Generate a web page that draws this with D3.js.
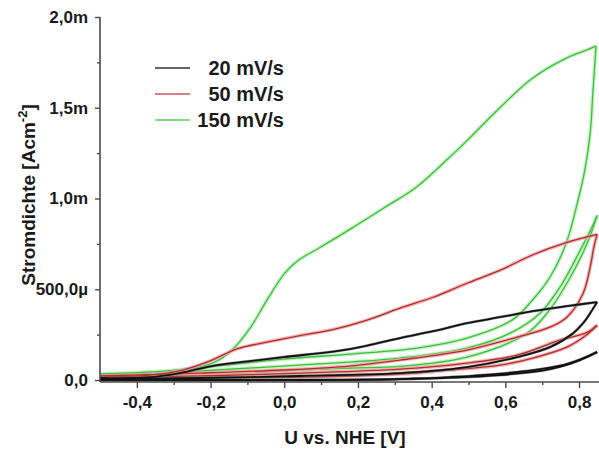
<!DOCTYPE html>
<html><head><meta charset="utf-8">
<script src="https://cdn.jsdelivr.net/npm/d3@7"></script>
<style>
body{margin:0;background:#fff}
text{font-family:"Liberation Sans",Arial,sans-serif;font-weight:bold;fill:#1a1a1a}
</style>
</head><body><svg id="c" width="599" height="449"></svg>
<script>
// ---- data (U in V, current density in mA/cm^2) ----
const seriesNames = ["20 mV/s", "50 mV/s", "150 mV/s"];
const xMajorTicks = [-0.4, -0.2, 0.0, 0.2, 0.4, 0.6, 0.8];
const xMinorTicks = [-0.3, -0.1, 0.1, 0.3, 0.5, 0.7];
const yMajorTicks = [0, 0.5, 1.0, 1.5, 2.0];
const yMinorTicks = [0.25, 0.75, 1.25, 1.75];
const yTickLabels = ["0,0", "500,0\u00b5", "1,0m", "1,5m", "2,0m"];

// 150 mV/s
const green_c1_fwd = [[-0.5,0.027],[-0.364,0.035],[-0.256,0.060],[-0.188,0.099],[-0.142,0.165],[-0.093,0.286],[-0.047,0.440],[0.002,0.590],[0.040,0.662],[0.090,0.722],[0.178,0.830],[0.268,0.945],[0.360,1.065],[0.450,1.230],[0.496,1.319],[0.585,1.500],[0.675,1.665],[0.767,1.775],[0.822,1.819],[0.846,1.841]];
const green_c1_rev = [[0.846,1.841],[0.838,1.600],[0.830,1.357],[0.815,1.150],[0.797,0.989],[0.765,0.753],[0.721,0.566],[0.680,0.456],[0.618,0.330],[0.496,0.231],[0.360,0.176],[0.178,0.143],[-0.003,0.115],[-0.182,0.077],[-0.364,0.044],[-0.5,0.033]];
const green_c2_fwd = [[-0.5,0.011],[-0.364,0.016],[-0.182,0.027],[-0.003,0.049],[0.178,0.066],[0.314,0.075],[0.496,0.126],[0.659,0.258],[0.713,0.368],[0.767,0.533],[0.822,0.753],[0.849,0.907]];
const green_c2_rev = [[0.849,0.907],[0.841,0.868],[0.803,0.714],[0.748,0.511],[0.694,0.368],[0.613,0.258],[0.496,0.176],[0.314,0.121],[0.178,0.099],[-0.003,0.077],[-0.182,0.055],[-0.364,0.033],[-0.5,0.022]];
// 50 mV/s
const red_c1_fwd = [[-0.5,0.016],[-0.364,0.027],[-0.275,0.055],[-0.201,0.105],[-0.128,0.172],[-0.047,0.209],[0.043,0.245],[0.132,0.278],[0.225,0.330],[0.314,0.396],[0.404,0.456],[0.496,0.533],[0.585,0.604],[0.675,0.690],[0.767,0.758],[0.849,0.802]];
const red_c1_rev = [[0.849,0.802],[0.841,0.740],[0.830,0.621],[0.811,0.478],[0.767,0.346],[0.721,0.291],[0.632,0.236],[0.496,0.165],[0.314,0.110],[0.178,0.077],[-0.003,0.055],[-0.229,0.038],[-0.5,0.022]];
const red_c2_fwd = [[-0.5,0.005],[-0.229,0.011],[0.043,0.016],[0.314,0.033],[0.450,0.055],[0.585,0.082],[0.675,0.121],[0.767,0.181],[0.816,0.242],[0.849,0.302]];
const red_c2_rev = [[0.849,0.302],[0.822,0.262],[0.748,0.220],[0.632,0.137],[0.496,0.093],[0.314,0.060],[0.043,0.038],[-0.229,0.022],[-0.5,0.016]];
// 20 mV/s
const black_c1_fwd = [[-0.5,0.011],[-0.364,0.016],[-0.283,0.038],[-0.183,0.082],[-0.093,0.104],[-0.003,0.126],[0.178,0.170],[0.314,0.231],[0.404,0.269],[0.496,0.313],[0.585,0.346],[0.675,0.379],[0.767,0.407],[0.849,0.429]];
const black_c1_rev = [[0.849,0.429],[0.830,0.368],[0.811,0.313],[0.784,0.258],[0.721,0.181],[0.632,0.126],[0.496,0.071],[0.314,0.038],[0.043,0.022],[-0.229,0.011],[-0.5,0.005]];
const black_c2_fwd = [[-0.5,0.000],[0.043,0.000],[0.314,0.005],[0.450,0.016],[0.632,0.044],[0.767,0.088],[0.849,0.154]];
const black_c2_rev = [[0.849,0.154],[0.803,0.110],[0.721,0.060],[0.585,0.027],[0.314,0.005],[-0.5,0.000]];

// ---- chart ----
const svg = d3.select("#c");
const x = d3.scaleLinear().domain([-0.5, 0.85]).range([100, 597.5]);
const y = d3.scaleLinear().domain([-0.011, 2.0]).range([382, 17]);
const fmtX = d => d3.format(".1f")(d).replace(".", ",").replace("\u2212", "-");

const line = d3.line().x(d => x(d[0])).y(d => y(d[1])).curve(d3.curveCatmullRom.alpha(0.5));
svg.append("clipPath").attr("id","clp").append("rect")
  .attr("x", 100).attr("y", 10).attr("width", 499).attr("height", 372);
const plot = svg.append("g").attr("clip-path","url(#clp)");

const groups = [
  {name: seriesNames[0], core: "#111111", halo: "#888888", hw: 2.8, cw: 1.8, legend: "#333333", branches: [black_c1_fwd, black_c1_rev, black_c2_fwd, black_c2_rev]},
  {name: seriesNames[1], core: "#b52a2a", halo: "#eba3a3", hw: 3.6, cw: 1.3, legend: "#c25a5a", branches: [red_c1_fwd, red_c1_rev, red_c2_fwd, red_c2_rev]},
  {name: seriesNames[2], core: "#3cbf3c", halo: "#b8efb8", hw: 3.8, cw: 1.3, legend: "#5ccc5c", branches: [green_c1_fwd, green_c1_rev, green_c2_fwd, green_c2_rev]}
];
[groups[2], groups[1], groups[0]].forEach(g => {
  g.branches.forEach(b => {
    plot.append("path").attr("d", line(b)).attr("fill","none")
      .attr("stroke", g.halo).attr("stroke-width", g.hw).attr("stroke-linejoin","round").attr("opacity",0.8);
  });
  g.branches.forEach(b => {
    plot.append("path").attr("d", line(b)).attr("fill","none")
      .attr("stroke", g.core).attr("stroke-width", g.cw).attr("stroke-linejoin","round");
  });
});

// axes
const axisColor = "#4a4a4a";
const xAxis = svg.append("g").attr("transform", "translate(0,382)");
xAxis.call(d3.axisBottom(x).tickValues(xMajorTicks).tickSize(6).tickPadding(8).tickFormat(fmtX).tickSizeOuter(0));
const xMinor = svg.append("g").attr("transform", "translate(0,382)");
xMinor.call(d3.axisBottom(x).tickValues(xMinorTicks).tickSize(3).tickFormat("").tickSizeOuter(0));
xMinor.select(".domain").remove();

const yAxis = svg.append("g").attr("transform", "translate(100,0)");
yAxis.call(d3.axisLeft(y).tickValues(yMajorTicks).tickSize(5).tickPadding(7)
  .tickFormat((d, i) => yTickLabels[i]).tickSizeOuter(0));
const yMinor = svg.append("g").attr("transform", "translate(100,0)");
yMinor.call(d3.axisLeft(y).tickValues(yMinorTicks).tickSize(3).tickFormat("").tickSizeOuter(0));
yMinor.select(".domain").remove();

svg.selectAll(".domain").attr("stroke", axisColor).attr("stroke-width", 1.6);
svg.selectAll(".tick line").attr("stroke", axisColor).attr("stroke-width", 1.4);
svg.selectAll(".tick text").attr("font-family", '"Liberation Sans",Arial,sans-serif')
  .attr("font-weight", "bold").attr("font-size", 17).attr("fill", "#1a1a1a");
xAxis.select(".domain").attr("d", "M100,0H599");
yAxis.select(".domain").attr("d", "M0,382V17");

// axis titles
svg.append("text").attr("x", 345).attr("y", 444).attr("text-anchor","middle")
  .attr("font-size", 19).text("U vs. NHE [V]");
const yt = svg.append("text").attr("transform", "translate(35,195) rotate(-90)")
  .attr("text-anchor","middle").attr("font-size", 19);
yt.append("tspan").text("Stromdichte [Acm");
yt.append("tspan").attr("font-size", 13).attr("dy", -8).text("-2");
yt.append("tspan").attr("dy", 8).text("]");

// legend
const legendY = [68, 94, 120];
groups.forEach((g, i) => {
  svg.append("line").attr("x1", 155).attr("x2", 190).attr("y1", legendY[i]).attr("y2", legendY[i])
    .attr("stroke", g.legend).attr("stroke-width", 1.6);
  svg.append("text").attr("x", 284).attr("y", legendY[i] + 7).attr("text-anchor","end")
    .attr("font-size", 20).text(g.name);
});
</script></body></html>
